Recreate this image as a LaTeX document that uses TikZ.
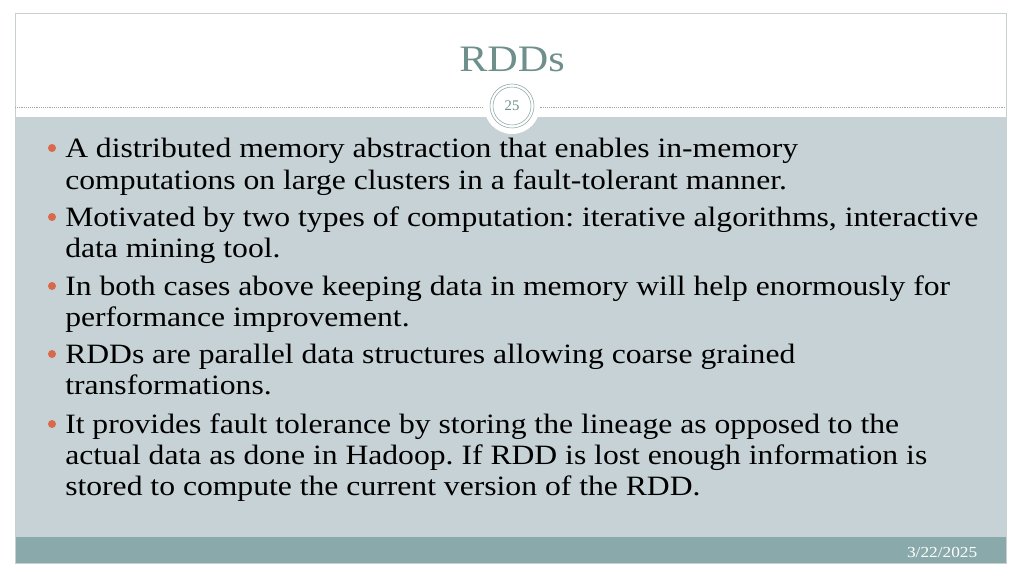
\documentclass[tikz,border=0pt]{standalone}
\usepackage{fontspec}
\setmainfont{Liberation Serif}
\newfontfamily\bodyfont[FakeStretch=1.13]{Liberation Serif}
\frenchspacing
\definecolor{bodybg}{HTML}{C6D2D6}
\definecolor{foot}{HTML}{8AA9AA}
\definecolor{titlec}{HTML}{6E8F8C}
\definecolor{bul}{HTML}{D9694A}
\definecolor{frame}{HTML}{C8D0D0}
\tikzset{ln/.style={anchor=base west,inner sep=0pt,font=\bodyfont\fontsize{21pt}{24pt}\selectfont,text=black},
 bl/.style={circle,fill=bul,inner sep=0pt,minimum size=6pt}}
\begin{document}
\begin{tikzpicture}[x=0.75pt,y=-0.75pt]
\useasboundingbox (0,0) rectangle (1024,576);
\fill[white] (0,0) rectangle (1024,576);
\fill[bodybg] (15,117) rectangle (1006,537);
\fill[foot] (15,537) rectangle (1006,563);
\draw[frame] (15,13) rectangle (1006,563);
\draw[gray!70,densely dotted] (15,107) -- (1006,107);
\fill[white] (512,106) circle (28);
\draw[titlec!80] (512,106) circle (22);
\draw[titlec!80] (512,106) circle (19);
\node (num) at (512,106) {\fontsize{11pt}{12pt}\selectfont\color{titlec}25};
\node (title) at (512,59) {\bodyfont\fontsize{28pt}{32pt}\selectfont\color{titlec}RDDs};
\node[anchor=east,text=white] (date) at (982,552) {\bodyfont\fontsize{11.5pt}{12pt}\selectfont 3/22/2025};
\foreach \y in {148,217,286,354,424} \node[bl] at (52,\y) {};
\node[ln] (l1) at (65,157) {A distributed memory abstraction that enables in-memory};
\node[ln] (l2) at (65,189) {computations on large clusters in a fault-tolerant manner.};
\node[ln] (l3) at (65,226) {Motivated by two types of computation: iterative algorithms, interactive};
\node[ln] (l4) at (65,257) {data mining tool.};
\node[ln] (l5) at (65,295) {In both cases above keeping data in memory will help enormously for};
\node[ln] (l6) at (65,326) {performance improvement.};
\node[ln] (l7) at (65,363) {RDDs are parallel data structures allowing coarse grained};
\node[ln] (l8) at (65,394) {transformations.};
\node[ln] (l9) at (65,433) {It provides fault tolerance by storing the lineage as opposed to the};
\node[ln] (l10) at (65,464) {actual data as done in Hadoop. If RDD is lost enough information is};
\node[ln] (l11) at (65,495) {stored to compute the current version of the RDD.};
\end{tikzpicture}
\end{document}
